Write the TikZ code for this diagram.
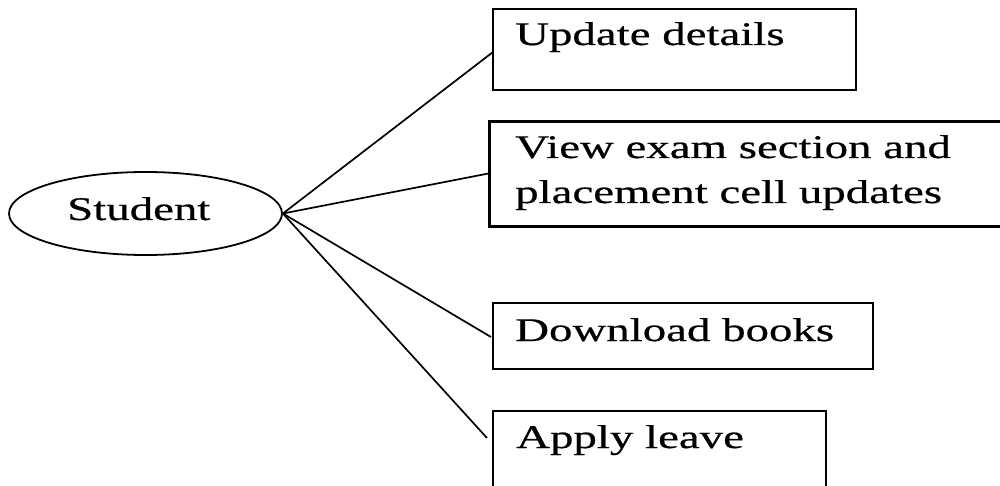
\documentclass[tikz,border=0pt]{standalone}
\usepackage{fontspec}
\newfontfamily\tf[FakeStretch=1.42,FakeBold=0.6]{Liberation Serif}
\usetikzlibrary{shapes.geometric}
\begin{document}
\begin{tikzpicture}[x=1pt,y=-1pt,
  txt/.style={anchor=base west,inner sep=0pt,font=\tf\fontsize{33}{45}\selectfont},
  box/.style={draw,line width=2.2pt,minimum width=#1,inner sep=0pt},
  conn/.style={line width=1.7pt}]
\useasboundingbox (0,0) rectangle (1000,486);
\clip (0,0) rectangle (1000,486);
\node[draw,ellipse,line width=1.8pt,minimum width=273pt,minimum height=83pt,inner sep=0pt] (st) at (145.5,213.5) {};
\node[txt] (stt) at (67,220) {Student};
\node[box=363pt,minimum height=81pt] (b1) at (674.5,49.5) {};
\node[box=515pt,minimum height=105pt,line width=3pt] (b2) at (746.5,174.5) {};
\node[box=380pt,minimum height=66pt] (b3) at (683,336) {};
\node[box=333pt,minimum height=89pt] (b4) at (659.5,455.5) {};
\node[txt] (t1) at (515,45) {Update details};
\node[txt] (t2a) at (515,158) {View exam section and};
\node[txt] (t2b) at (515,203) {placement cell updates};
\node[txt] (t3) at (515,341) {Download books};
\node[txt] (t4) at (516,448) {Apply leave};
\coordinate (e1) at (493,52);
\coordinate (e2) at (491,173);
\coordinate (e3) at (491,337);
\coordinate (e4) at (487,438);
\draw[conn] (st.east) -- (e1);
\draw[conn] (st.east) -- (e2);
\draw[conn] (st.east) -- (e3);
\draw[conn] (st.east) -- (e4);
\end{tikzpicture}
\end{document}
